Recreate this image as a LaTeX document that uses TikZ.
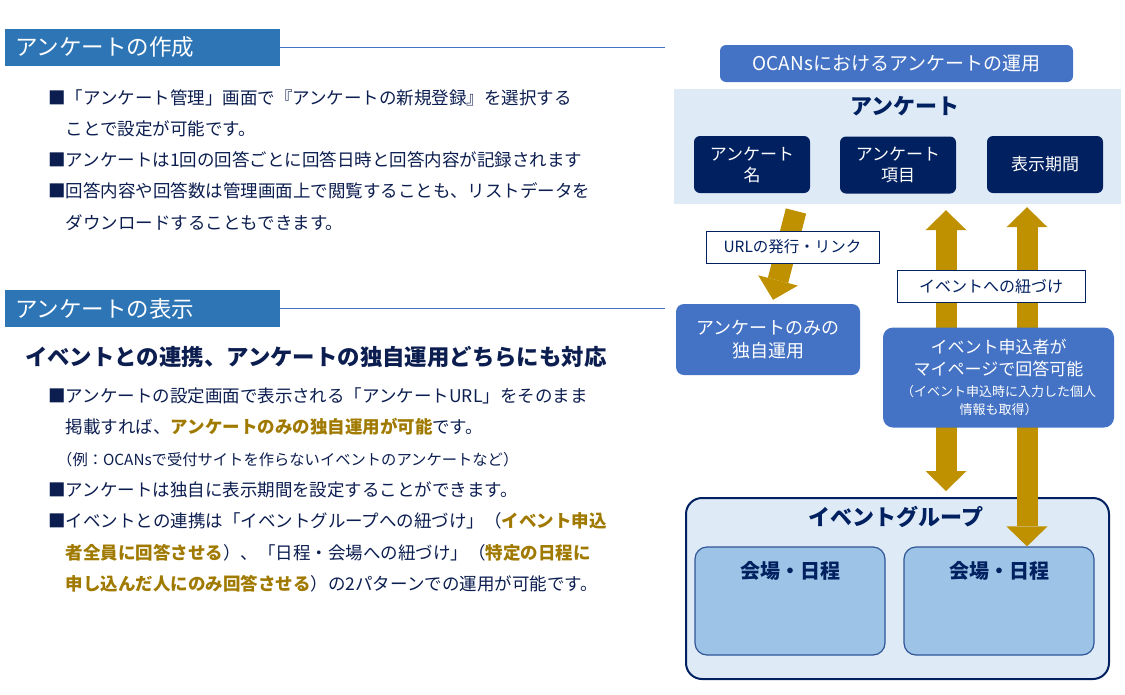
\documentclass[tikz,border=0pt]{standalone}
\usepackage{fontspec}
\setmainfont{Noto Sans CJK JP}
\usepackage{xcolor}
\usepackage{tikz}
\usetikzlibrary{calc,arrows.meta,positioning}
\definecolor{headBlue}{RGB}{46,117,182}
\definecolor{midBlue}{RGB}{68,114,196}
\definecolor{navyBlue}{RGB}{0,32,96}
\definecolor{paleBlue}{RGB}{222,235,247}
\definecolor{skyBlue}{RGB}{157,195,230}
\definecolor{venueEdge}{RGB}{47,85,151}
\definecolor{goldArrow}{RGB}{191,144,0}
\definecolor{goldText}{RGB}{160,122,0}
\definecolor{bodyText}{RGB}{12,30,80}
\newcommand{\goldtext}[1]{\textcolor{goldText}{\bfseries #1}}

\begin{document}
\begin{tikzpicture}[x=1pt, y=-1pt,
  headbar/.style={fill=headBlue, text=white, minimum height=37pt, inner xsep=10pt,
    text width=255pt, align=left, font=\fontsize{22.5}{25}\selectfont},
  ruleline/.style={draw=midBlue, line width=0.8pt},
  bodytext/.style={text=bodyText, inner sep=0pt, align=left, font=\fontsize{17.5}{31.3}\selectfont},
  bluebox/.style={fill=midBlue, text=white, rounded corners=8pt, align=center},
  itembox/.style={fill=navyBlue, text=white, rounded corners=6pt, align=center,
    minimum width=116pt, minimum height=57pt, font=\fontsize{17}{21}\selectfont},
  tagbox/.style={fill=white, draw=navyBlue, line width=0.8pt, text=navyBlue,
    minimum height=32pt, font=\fontsize{15.5}{18}\selectfont},
  paneltitle/.style={text=navyBlue, font=\fontsize{22}{24}\selectfont\bfseries},
  venuebox/.style={fill=skyBlue, draw=venueEdge, line width=1.2pt, rounded corners=12pt,
    minimum width=190pt, minimum height=108pt},
  goldarrow/.style={draw=goldArrow, line width=21pt,
    >={Triangle[width=41pt,length=20pt,line width=0pt]}}
]
\useasboundingbox (0,0) rectangle (1125,694);

% left column: creating a survey
\node[headbar] (hCreate) at (142.5,47.5) {アンケートの作成};
\draw[ruleline] (hCreate.east) -- ++(385,0);
\node[bodytext, anchor=north west] (createList) at (48,89) {■「アンケート管理」画面で『アンケートの新規登録』を選択する\\
\phantom{■}ことで設定が可能です。\\
■アンケートは1回の回答ごとに回答日時と回答内容が記録されます\\
■回答内容や回答数は管理画面上で閲覧することも、リストデータを\\
\phantom{■}ダウンロードすることもできます。};

% left column: showing a survey
\node[headbar] (hShow) at (142.5,308.5) {アンケートの表示};
\draw[ruleline] (hShow.east) -- ++(385,0);
\node[text=bodyText, anchor=west, inner sep=0pt, font=\fontsize{22.4}{24}\selectfont\bfseries] (showLead) at (25,357)
  {イベントとの連携、アンケートの独自運用どちらにも対応};
\node[bodytext, anchor=north west] (showList) at (48,387.5) {■アンケートの設定画面で表示される「アンケートURL」をそのまま\\
\phantom{■}掲載すれば、\goldtext{アンケートのみの独自運用が可能}です。\\
{\fontsize{15.3}{31.3}\selectfont\hspace*{9pt}（例：OCANsで受付サイトを作らないイベントのアンケートなど）}\\
■アンケートは独自に表示期間を設定することができます。\\
■イベントとの連携は「イベントグループへの紐づけ」（\goldtext{イベント申込}\\
\phantom{■}\goldtext{者全員に回答させる}）、「日程・会場への紐づけ」（\goldtext{特定の日程に}\\
\phantom{■}\goldtext{申し込んだ人にのみ回答させる}）の2パターンでの運用が可能です。};

% right column: survey panel
\node[bluebox, rounded corners=6pt, minimum width=353pt, minimum height=37pt,
  font=\fontsize{19}{21}\selectfont] (opsTitle) at (896.5,63.5) {OCANsにおけるアンケートの運用};
\node[fill=paleBlue, minimum width=447pt, minimum height=115pt] (survey) at (897.5,146.5) {};
\node[paneltitle] (surveyTitle) at (905,106) {アンケート};
\node[itembox] (itemName) at (752,164.5) {アンケート\\名};
\node[itembox] (itemQuestions) at (898,165) {アンケート\\項目};
\node[itembox] (itemPeriod) at (1045,164.5) {表示期間};

% right column: event group
\node[fill=paleBlue, draw=navyBlue, line width=2pt, rounded corners=16pt,
  minimum width=423pt, minimum height=181pt] (group) at (897.5,588.5) {};
\node[paneltitle] (groupTitle) at (896,517) {イベントグループ};
\node[venuebox] (venueA) at (790,601) {};
\node[venuebox] (venueB) at (999,601) {};
\node[paneltitle, font=\fontsize{20}{22}\selectfont\bfseries] at ([yshift=-25pt]venueA.north) {会場・日程};
\node[paneltitle, font=\fontsize{20}{22}\selectfont\bfseries] at ([yshift=-25pt]venueB.north) {会場・日程};

% standalone use
\node[bluebox, minimum width=184pt, minimum height=71pt,
  font=\fontsize{18}{23}\selectfont] (solo) at (768,339.5) {アンケートのみの\\独自運用};

% arrows
\coordinate (urlStart) at (796,211);
\coordinate (colA) at (946,0);
\coordinate (colB) at (1027,0);
\draw[goldarrow, ->] (urlStart) -- ([xshift=5pt,yshift=4pt]solo.north);
\draw[goldarrow, <->] ($(survey.south -| colA)+(0,6)$) -- ($(group.north -| colA)+(0,-6)$);
\draw[goldarrow, <->] ($(survey.south -| colB)+(0,3)$) -- (venueB.north -| colB);

% labels over the arrows
\node[tagbox, minimum width=173pt] (urlTag) at (792.5,247) {URLの発行・リンク};
\node[tagbox, minimum width=188pt, font=\fontsize{16}{18}\selectfont] (linkTag) at (991,286) {イベントへの紐づけ};
\node[bluebox, rounded corners=10pt, minimum width=231pt, minimum height=100pt,
  font=\fontsize{17}{22}\selectfont] (member) at (998.5,377.5)
  {イベント申込者が\\マイページで回答可能\\[-1pt]
   {\fontsize{13}{18}\selectfont （イベント申込時に入力した個人}\\[-4pt]
   {\fontsize{13}{18}\selectfont 情報も取得）}};
\end{tikzpicture}
\end{document}
